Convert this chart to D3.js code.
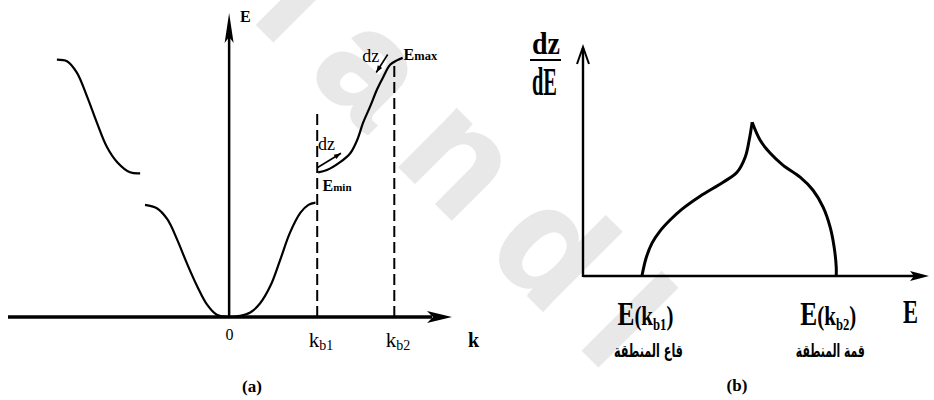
<!DOCTYPE html>
<html>
<head>
<meta charset="utf-8">
<script src="https://cdn.jsdelivr.net/npm/d3@7"></script>
<style>
  html, body { margin: 0; padding: 0; background: #fff; }
  svg { display: block; }
</style>
</head>
<body>
<svg id="fig" width="934" height="400"></svg>
<script>
// ---------- (a) band structure E(k) ----------
const kb1 = 1.0;
const kb2 = 1.875;
const Emin = 1.29;
const Emax = 2.31;

// lower band, k < 0 and k > 0
const band1Left = [[-0.955, 1.0], [-0.82, 0.97], [-0.70, 0.87], [-0.59, 0.69], [-0.48, 0.48],
                   [-0.36, 0.27], [-0.25, 0.11], [-0.14, 0.02], [0, 0]];
const band1Right = [[0, 0], [0.125, 0.01], [0.24, 0.04], [0.35, 0.12], [0.47, 0.28], [0.58, 0.51],
                    [0.69, 0.75], [0.81, 0.93], [0.9, 1.0], [0.98, 1.02]];
// upper band, k < -kb1 and k > kb1
const band2Left = [[-1.955, 2.295], [-1.84, 2.28], [-1.73, 2.18], [-1.61, 1.96], [-1.5, 1.73],
                   [-1.39, 1.52], [-1.27, 1.38], [-1.125, 1.29], [-1.01, 1.28]];
const band2Right = [[1.01, 1.29], [1.11, 1.31], [1.26, 1.38], [1.375, 1.46], [1.455, 1.58],
                    [1.52, 1.73], [1.60, 1.875], [1.68, 2.03], [1.75, 2.14], [1.83, 2.25],
                    [1.91, 2.29], [1.97, 2.31]];

const kTicks = [0, kb1, kb2];
const kTickBase = ["0", "k", "k"];
const kTickSub = ["", "b1", "b2"];
const zoneTop = [1.82, 2.28];          // heights of the dashed guides at kb1, kb2

// ---------- (b) density of states dz/dE ----------
const dosRise = [[1.29, 0], [1.312, 0.117], [1.343, 0.214], [1.385, 0.292], [1.438, 0.364],
                 [1.501, 0.435], [1.596, 0.519], [1.717, 0.61], [1.79, 0.675], [1.833, 0.773],
                 [1.854, 0.883], [1.87, 1.0]];
const dosFall = [[1.87, 1.0], [1.912, 0.883], [1.964, 0.8], [2.033, 0.72], [2.122, 0.643],
                 [2.19, 0.558], [2.243, 0.448], [2.28, 0.318], [2.301, 0.188], [2.312, 0.058],
                 [2.312, 0]];
const eTicks = [Emin, Emax];
const eTickSub = ["b1", "b2"];
const eTickArabic = ["قاع المنطقة", "قمة المنطقة"];

const svg = d3.select("#fig");

// faint background watermark
svg.append("text")
  .attr("transform", "translate(203,-30) rotate(45)")
  .attr("font-family", "Liberation Sans, Arial, sans-serif")
  .attr("font-weight", "bold")
  .attr("font-size", 152)
  .attr("letter-spacing", 37)
  .attr("fill", "#e8e8e8")
  .attr("stroke", "#e8e8e8").attr("stroke-width", 3)
  .text("Handl");

const serif = "Liberation Serif, Times New Roman, serif";

// text squeezed horizontally to a given width
function fitText(parent, x, y, width, anchor, build) {
  const g = parent.append("g");
  const t = g.append("text").attr("text-anchor", anchor).attr("fill", "#000");
  build(t);
  const s = width / t.node().getComputedTextLength();
  g.attr("transform", `translate(${x},${y}) scale(${s},1)`);
  return t;
}

// ================= panel (a) =================
const xA = d3.scaleLinear().domain([-2.51, 2.53]).range([8, 452]);
const yA = d3.scaleLinear().domain([0, 2.71]).range([317, 13]);
const gA = svg.append("g");

const lineA = d3.line().x(d => xA(d[0])).y(d => yA(d[1])).curve(d3.curveCatmullRom.alpha(0.5));

// dashed guides at the zone boundaries
gA.selectAll("line.guide").data([kb1, kb2]).join("line")
  .attr("class", "guide")
  .attr("x1", d => xA(d)).attr("x2", d => xA(d))
  .attr("y1", yA(0)).attr("y2", (d, i) => yA(zoneTop[i]))
  .attr("stroke", "#000").attr("stroke-width", 2).attr("stroke-dasharray", "11,5");

// k axis
const [ax0, ax1] = xA.range();
gA.append("line").attr("x1", ax0).attr("x2", ax1 - 20).attr("y1", yA(0)).attr("y2", yA(0))
  .attr("stroke", "#000").attr("stroke-width", 3.5);
gA.append("path")
  .attr("d", `M${ax1},${yA(0)} L${ax1 - 25},${yA(0) - 6} L${ax1 - 19},${yA(0)} L${ax1 - 25},${yA(0) + 6} Z`)
  .attr("fill", "#000");

// E axis
const eTopA = yA.range()[1];
gA.append("line").attr("x1", xA(0)).attr("x2", xA(0)).attr("y1", yA(0)).attr("y2", eTopA + 15)
  .attr("stroke", "#000").attr("stroke-width", 2.5);
gA.append("path")
  .attr("d", `M${xA(0)},${eTopA} L${xA(0) - 4.5},${eTopA + 30} L${xA(0)},${eTopA + 24} L${xA(0) + 4.5},${eTopA + 30} Z`)
  .attr("fill", "#000");

// tick labels via the axis generator
const axisA = gA.append("g").attr("transform", `translate(0,${yA(0)})`)
  .call(d3.axisBottom(xA).tickValues(kTicks).tickSize(0).tickFormat(""));
axisA.select(".domain").remove();
axisA.selectAll(".tick").each(function (d, i) {
  const t = d3.select(this).append("text")
    .attr("fill", "#000").attr("font-family", serif)
    .attr("text-anchor", i === 0 ? "middle" : "start")
    .attr("x", i === 0 ? 0 : -9)
    .attr("y", i === 0 ? 23 : 30);
  t.append("tspan").attr("font-size", i === 0 ? 16 : 21).text(kTickBase[i]);
  if (kTickSub[i]) t.append("tspan").attr("font-size", 14).attr("dy", 3).text(kTickSub[i]);
});

// bands
[band1Left, band1Right, band2Left, band2Right].forEach(b => {
  gA.append("path").attr("d", lineA(b)).attr("fill", "none")
    .attr("stroke", "#000").attr("stroke-width", 2.2);
});

// dz arrows along the upper band
const dzArrows = [[[1.0, 1.33], [1.27, 1.46]], [[1.80, 2.34], [1.67, 2.18]]];
dzArrows.forEach(([a, b]) => {
  const x1 = xA(a[0]), y1 = yA(a[1]), x2 = xA(b[0]), y2 = yA(b[1]);
  const ang = Math.atan2(y2 - y1, x2 - x1);
  gA.append("line").attr("x1", x1).attr("y1", y1).attr("x2", x2).attr("y2", y2)
    .attr("stroke", "#000").attr("stroke-width", 1.6);
  const L = 7, w = 2.6;
  const bx = x2 - L * Math.cos(ang), by = y2 - L * Math.sin(ang);
  gA.append("path")
    .attr("d", `M${x2},${y2} L${bx - w * Math.sin(ang)},${by + w * Math.cos(ang)} L${bx + w * Math.sin(ang)},${by - w * Math.cos(ang)} Z`)
    .attr("fill", "#000");
});

// annotations
const annA = gA.append("g").attr("font-family", serif).attr("fill", "#000");
annA.append("text").attr("x", xA(1.01)).attr("y", yA(1.49)).attr("font-size", 18).text("dz");
annA.append("text").attr("x", xA(1.51)).attr("y", yA(2.27)).attr("font-size", 18).text("dz");
const tMax = annA.append("text").attr("x", xA(1.98)).attr("y", yA(2.29)).attr("font-weight", "bold");
tMax.append("tspan").attr("font-size", 16).text("E");
tMax.append("tspan").attr("font-size", 12.5).text("max");
const tMin = annA.append("text").attr("x", xA(1.06)).attr("y", yA(1.12)).attr("font-weight", "bold");
tMin.append("tspan").attr("font-size", 16).text("E");
tMin.append("tspan").attr("font-size", 11).text("min");
annA.append("text").attr("x", xA(0) + 11).attr("y", eTopA + 9).attr("font-size", 16).attr("font-weight", "bold").text("E");
annA.append("text").attr("x", ax1 + 16).attr("y", yA(0) + 30).attr("font-size", 20).attr("font-weight", "bold").text("k");
annA.append("text").attr("x", 252).attr("y", 392).attr("text-anchor", "middle")
  .attr("font-size", 17).attr("font-weight", "bold").text("(a)");

// ================= panel (b) =================
const xB = d3.scaleLinear().domain([0.98, 2.8]).range([583, 929]);
const yB = d3.scaleLinear().domain([0, 1.49]).range([276, 47]);
const gB = svg.append("g");
const lineB = d3.line().x(d => xB(d[0])).y(d => yB(d[1])).curve(d3.curveCatmullRom.alpha(0.5));

const [bx0, bx1] = xB.range();
const by0 = yB(0), byTop = yB.range()[1];
gB.append("line").attr("x1", bx0).attr("x2", bx1 - 14).attr("y1", by0).attr("y2", by0)
  .attr("stroke", "#000").attr("stroke-width", 2.6);
gB.append("path")
  .attr("d", `M${bx1},${by0} L${bx1 - 19},${by0 - 5} L${bx1 - 15},${by0} L${bx1 - 19},${by0 + 5} Z`)
  .attr("fill", "#000");
gB.append("line").attr("x1", bx0).attr("x2", bx0).attr("y1", by0 + 1).attr("y2", byTop + 1)
  .attr("stroke", "#000").attr("stroke-width", 2.4);
gB.append("path")
  .attr("d", `M${bx0 - 6},${byTop + 17} L${bx0},${byTop} L${bx0 + 6},${byTop + 17}`)
  .attr("fill", "none").attr("stroke", "#000").attr("stroke-width", 2);

[dosRise, dosFall].forEach(c => {
  gB.append("path").attr("d", lineB(c)).attr("fill", "none")
    .attr("stroke", "#000").attr("stroke-width", 3).attr("stroke-linejoin", "miter");
});

const boldSerif = t => t.attr("font-family", serif).attr("font-weight", "bold");

// axis label dz/dE and E
fitText(gB, 532, 54, 28, "start", t => boldSerif(t).attr("font-size", 32).text("dz"));
gB.append("line").attr("x1", 530).attr("x2", 561).attr("y1", 60).attr("y2", 60)
  .attr("stroke", "#000").attr("stroke-width", 2);
fitText(gB, 532, 95, 25, "start", t => boldSerif(t).attr("font-size", 40).text("dE"));
fitText(gB, 903, 323, 15, "start", t => boldSerif(t).attr("font-size", 34).text("E"));

// tick labels E(kb1), E(kb2) and zone names
const axisB = gB.append("g").attr("transform", `translate(0,${by0})`)
  .call(d3.axisBottom(xB).tickValues(eTicks).tickSize(0).tickFormat(""));
axisB.select(".domain").remove();
const eLabShift = [-25, -36];
const arShift = [6, -6];
axisB.selectAll(".tick").each(function (d, i) {
  const g = d3.select(this);
  fitText(g, eLabShift[i], 49, 56, "start", t => {
    boldSerif(t);
    t.append("tspan").attr("font-size", 34).text("E");
    t.append("tspan").attr("font-size", 28).text("(k");
    t.append("tspan").attr("font-size", 17).attr("dy", 5).text(eTickSub[i]);
    t.append("tspan").attr("font-size", 28).attr("dy", -5).text(")");
  });
  fitText(g, arShift[i], 81, 69, "middle", t => t
    .attr("font-family", "DejaVu Sans, sans-serif").attr("font-weight", "bold")
    .attr("font-size", 18).attr("direction", "rtl")
    .text(eTickArabic[i]));
});

gB.append("text").attr("x", 737).attr("y", 391).attr("text-anchor", "middle")
  .attr("font-family", serif).attr("font-size", 17).attr("font-weight", "bold").text("(b)");
</script>
</body>
</html>
